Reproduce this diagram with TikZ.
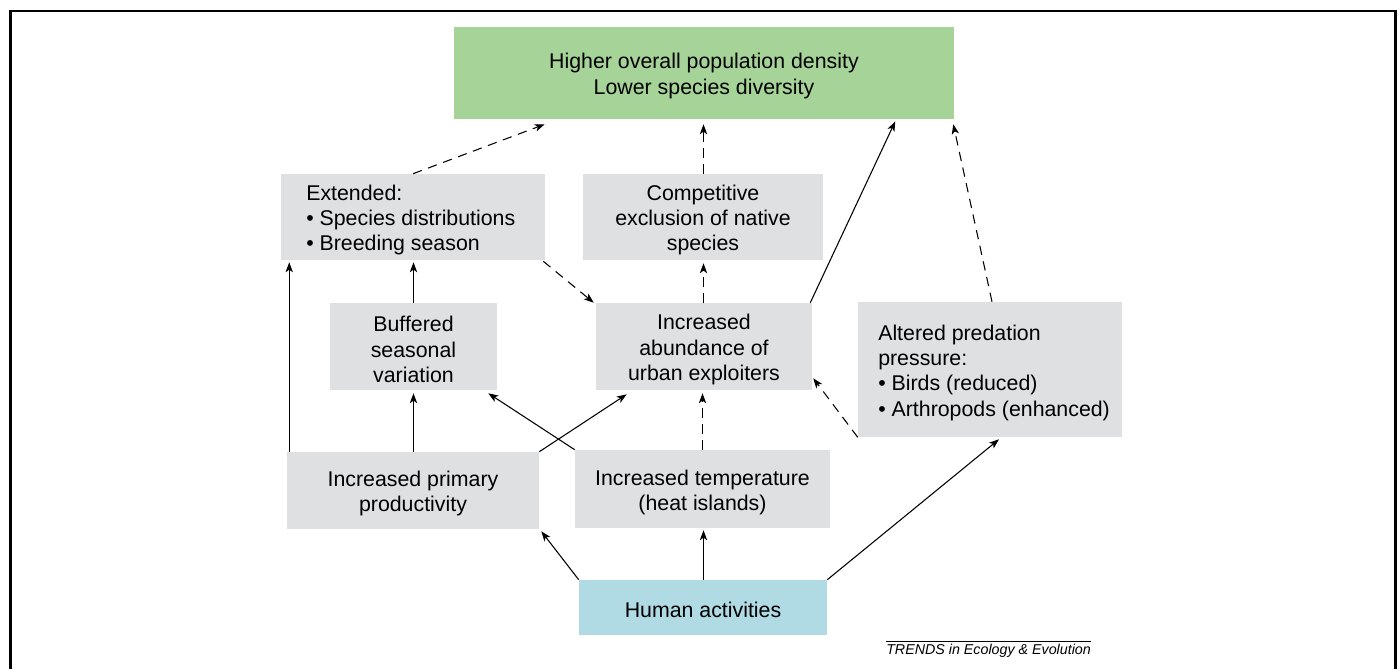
\documentclass[tikz,border=0pt]{standalone}
\usepackage{fontspec}
\setmainfont{Liberation Sans}
\usetikzlibrary{arrows.meta,calc}
\definecolor{boxgray}{RGB}{223,224,226}
\definecolor{boxgreen}{RGB}{165,211,152}
\definecolor{boxblue}{RGB}{176,218,228}
\tikzset{
  box/.style 2 args={rectangle, inner sep=0pt, minimum width={#1*0.75pt}, minimum height={#2*0.75pt}},
  gbox/.style={fill=boxgray},
  txt/.style={inner sep=0pt, align=left, font=\fontsize{16}{19}\selectfont},
  ctxt/.style={inner sep=0pt, align=center, font=\fontsize{16}{19}\selectfont},
  conn/.style={line width=0.8pt, -{Stealth[length=7.5pt,width=5.5pt,inset=2pt]}},
  dconn/.style={conn, dash pattern=on 7pt off 5pt},
}
\begin{document}
\begin{tikzpicture}[x=0.75pt,y=-0.75pt]
\useasboundingbox (0,0) rectangle (1398,669);
\fill[white] (0,0) rectangle (1398,669);
\draw[line width=1.7pt] (10.5,669) -- (10.5,11) -- (1395.5,11) -- (1395.5,669);

\node[box={500}{92}, fill=boxgreen] (green) at (704,73) {};
\node[ctxt] (greent) at (704,76) {Higher overall population density\\Lower species diversity};
\node[box={264}{86}, gbox] (ext) at (413,217) {};
\node[txt, anchor=west] (extt) at (306,220) {Extended:\\\textbullet\ Species distributions\\\textbullet\ Breeding season};
\node[box={240}{86}, gbox] (comp) at (703,217) {};
\node[ctxt] (compt) at (703,220) {Competitive\\exclusion of native\\species};
\node[box={167}{87}, gbox] (buf) at (413.5,346.5) {};
\node[ctxt] (buft) at (413.5,349.5) {Buffered\\seasonal\\variation};
\node[box={216}{87}, gbox] (abund) at (704,346.5) {};
\node[ctxt] (abundt) at (704,349.5) {Increased\\abundance of\\urban exploiters};
\node[box={264}{135}, gbox] (pred) at (990,369.5) {};
\node[txt, anchor=west] (predt) at (878,372.5) {Altered predation\\pressure:\\\textbullet\ Birds (reduced)\\\textbullet\ Arthropods (enhanced)};
\node[box={252}{77}, gbox] (prim) at (413,490.5) {};
\node[ctxt] (primt) at (413,493.5) {Increased primary\\productivity};
\node[box={255}{78}, gbox] (temp) at (702.5,489) {};
\node[ctxt] (tempt) at (702.5,492.5) {Increased temperature\\(heat islands)};
\node[box={248}{55}, fill=boxblue] (human) at (703,607.5) {};
\node[ctxt] (humant) at (703,610) {Human activities};

% connectors
\draw[dconn] (ext.north) -- ($(green.south west)+(91,5)$);
\draw[dconn] ($(comp.north)+(0.5,0)$) -- ($(comp.north |- green.south)+(0.5,5)$);
\draw[conn] ($(abund.north east)+(-2,0)$) -- ($(green.south east)+(-59,2)$);
\draw[dconn] ($(pred.north)+(2,0)$) -- ($(green.south east)+(-1,5)$);
\draw[dconn] ($(ext.south east)+(-2,1)$) -- ($(abund.north west)+(-2,0)$);
\draw[dconn] (temp.north) -- ($(temp.north |- abund.south)+(0,3)$);
\draw[dconn] ($(abund.north)+(-0.5,0)$) -- ($(abund.north |- comp.south)+(-0.5,3)$);
\draw[dconn] (pred.south west) -- ($(abund.south east)+(1,-12)$);
\draw[conn] (buf.north) -- ($(buf.north |- ext.south)+(0,2)$);
\draw[conn] ($(prim.north west)+(2.5,0)$) -- ($(ext.south west)+(8.5,2)$);
\draw[conn] ($(prim.north)+(0.5,0)$) -- ($(prim.north |- buf.south)+(0.5,3)$);
\draw[conn] (prim.north east) -- ($(abund.south west)+(31,4)$);
\draw[conn] (temp.north west) -- ($(buf.south east)+(-9,3)$);
\draw[conn] ($(human.north)+(0.5,0)$) -- ($(human.north |- temp.south)+(0.5,2)$);
\draw[conn] (human.north west) -- ($(prim.south east)+(2,2)$);
\draw[conn] (human.north east) -- ($(pred.south)+(9,2)$);

% footer
\node[inner sep=0pt, anchor=base west, font=\fontsize{10.7}{12}\selectfont\itshape] (foot) at (886,654) {TRENDS in Ecology \& Evolution};
\draw[line width=0.6pt] (foot.north west |- 0,641) -- (foot.north east |- 0,641);
\end{tikzpicture}
\end{document}
